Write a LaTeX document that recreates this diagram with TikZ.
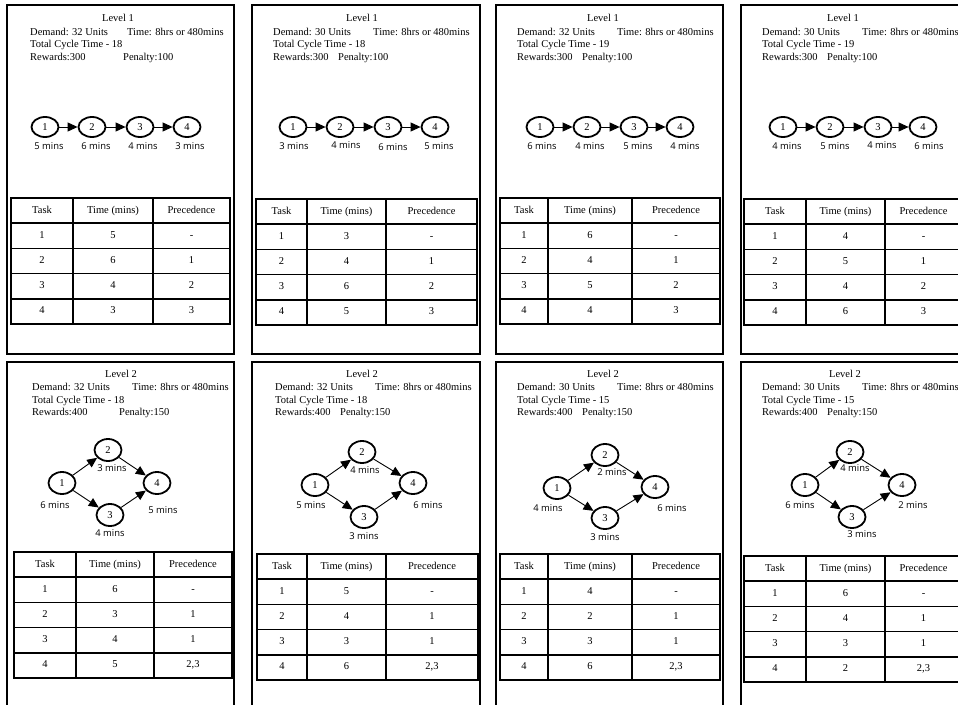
\documentclass[tikz,border=0pt]{standalone}
\usepackage{fontspec}
\setmainfont{Liberation Serif}
\newfontfamily\lblfont{Open Sans}
\usetikzlibrary{shapes.geometric,arrows.meta}

\tikzset{
  card/.style={draw, line width=1.9pt},
  hdr/.style={font=\fontsize{10.5}{12}\selectfont, inner sep=0pt, anchor=base west},
  lvl/.style={font=\fontsize{10.5}{12}\selectfont, inner sep=0pt, anchor=base},
  task/.style={draw, ellipse, line width=1.8pt, minimum width=27pt, minimum height=20pt,
    inner sep=0pt, font=\fontsize{10.5}{12}\selectfont},
  tasktwo/.style={task, minimum width=27pt, minimum height=22pt},
  mins/.style={font=\lblfont\fontsize{9.4}{10}\selectfont, inner sep=0pt},
  arr/.style={line width=0.9pt, -{Triangle[length=10pt,width=9pt]}},
  cell/.style={draw, line width=1.7pt, rectangle, inner sep=0pt, text height=7pt, text depth=2pt,
    font=\fontsize{10.5}{12}\selectfont},
}

% #1 prefix, #2..#5 column x positions, #6 top y, #7 list time/precedence
\newcommand{\tasktable}[7]{%
  \node[cell, minimum width={#3-#2}, minimum height=25.2] (#1-h1) at ({(#2+#3)/2},{#6+12.6}) {Task};
  \node[cell, minimum width={#4-#3}, minimum height=25.2] (#1-h2) at ({(#3+#4)/2},{#6+12.6}) {Time (mins)};
  \node[cell, minimum width={#5-#4}, minimum height=25.2] (#1-h3) at ({(#4+#5)/2},{#6+12.6}) {Precedence};
  \foreach \t/\p [count=\i] in {#7} {
    \node[cell, minimum width={#3-#2}, minimum height=25.2] (#1-\i-a) at ({(#2+#3)/2},{#6+12.6+25.2*\i}) {\i};
    \node[cell, minimum width={#4-#3}, minimum height=25.2] (#1-\i-b) at ({(#3+#4)/2},{#6+12.6+25.2*\i}) {\t};
    \node[cell, minimum width={#5-#4}, minimum height=25.2] (#1-\i-c) at ({(#4+#5)/2},{#6+12.6+25.2*\i}) {\p};
  }%
}

\begin{document}
\begin{tikzpicture}[x=1pt,y=-1pt]
\useasboundingbox (0,0) rectangle (958,704);
\clip (0,0) rectangle (958,704);

% ================= ROW 1 =================
% ---- card 1 ----
\draw[card] (7,5) rectangle (234,354);
\node[lvl] (c1lvl) at (118,21) {Level 1};
\node[hdr] (c1dem) at (30,35) {Demand: 32 Units};
\node[hdr] (c1time) at (127,35) {Time: 8hrs or 480mins};
\node[hdr] (c1tot) at (30,47.5) {Total Cycle Time - 18};
\node[hdr] (c1rew) at (30,60) {Rewards:300};
\node[hdr] (c1pen) at (123,60) {Penalty:100};
\node[task] (c1a) at (45,127) {1};
\node[task] (c1b) at (92,127) {2};
\node[task] (c1c) at (140,127) {3};
\node[task] (c1d) at (187,127) {4};
\draw[arr] (c1a) -- (c1b);
\draw[arr] (c1b) -- (c1c);
\draw[arr] (c1c) -- (c1d);
\node[mins] (c1la) at (49,146) {5 mins};
\node[mins] (c1lb) at (96,146) {6 mins};
\node[mins] (c1lc) at (143,146) {4 mins};
\node[mins] (c1ld) at (190,146) {3 mins};
\tasktable{c1t}{11}{73}{153}{230}{198}{5/-,6/1,4/2,3/3}

% ---- card 2 ----
\draw[card] (252,5) rectangle (480,354);
\node[lvl] (c2lvl) at (362,21) {Level 1};
\node[hdr] (c2dem) at (273,35) {Demand: 30 Units};
\node[hdr] (c2time) at (373,35) {Time: 8hrs or 480mins};
\node[hdr] (c2tot) at (273,47.5) {Total Cycle Time - 18};
\node[hdr] (c2rew) at (273,60) {Rewards:300};
\node[hdr] (c2pen) at (338,60) {Penalty:100};
\node[task] (c2a) at (293,127) {1};
\node[task] (c2b) at (340,127) {2};
\node[task] (c2c) at (388,127) {3};
\node[task] (c2d) at (435,127) {4};
\draw[arr] (c2a) -- (c2b);
\draw[arr] (c2b) -- (c2c);
\draw[arr] (c2c) -- (c2d);
\node[mins] (c2la) at (294,146) {3 mins};
\node[mins] (c2lb) at (346,145) {4 mins};
\node[mins] (c2lc) at (393,147) {6 mins};
\node[mins] (c2ld) at (439,146) {5 mins};
\tasktable{c2t}{256}{307}{386}{477}{199}{3/-,4/1,6/2,5/3}

% ---- card 3 ----
\draw[card] (496,5) rectangle (723,354);
\node[lvl] (c3lvl) at (603,21) {Level 1};
\node[hdr] (c3dem) at (517,35) {Demand: 32 Units};
\node[hdr] (c3time) at (617,35) {Time: 8hrs or 480mins};
\node[hdr] (c3tot) at (517,47.5) {Total Cycle Time - 19};
\node[hdr] (c3rew) at (517,60) {Rewards:300};
\node[hdr] (c3pen) at (582,60) {Penalty:100};
\node[task] (c3a) at (540,127) {1};
\node[task] (c3b) at (587,127) {2};
\node[task] (c3c) at (634,127) {3};
\node[task] (c3d) at (680,127) {4};
\draw[arr] (c3a) -- (c3b);
\draw[arr] (c3b) -- (c3c);
\draw[arr] (c3c) -- (c3d);
\node[mins] (c3la) at (542,146) {6 mins};
\node[mins] (c3lb) at (590,146) {4 mins};
\node[mins] (c3lc) at (638,146) {5 mins};
\node[mins] (c3ld) at (685,146) {4 mins};
\tasktable{c3t}{500}{548}{632}{720}{198}{6/-,4/1,5/2,4/3}

% ---- card 4 ----
\draw[card] (741,5) rectangle (968,354);
\node[lvl] (c4lvl) at (843,21) {Level 1};
\node[hdr] (c4dem) at (762,35) {Demand: 30 Units};
\node[hdr] (c4time) at (862,35) {Time: 8hrs or 480mins};
\node[hdr] (c4tot) at (762,47.5) {Total Cycle Time - 19};
\node[hdr] (c4rew) at (762,60) {Rewards:300};
\node[hdr] (c4pen) at (827,60) {Penalty:100};
\node[task] (c4a) at (783,127) {1};
\node[task] (c4b) at (830,127) {2};
\node[task] (c4c) at (878,127) {3};
\node[task] (c4d) at (923,127) {4};
\draw[arr] (c4a) -- (c4b);
\draw[arr] (c4b) -- (c4c);
\draw[arr] (c4c) -- (c4d);
\node[mins] (c4la) at (787,146) {4 mins};
\node[mins] (c4lb) at (835,146) {5 mins};
\node[mins] (c4lc) at (882,145) {4 mins};
\node[mins] (c4ld) at (929,146) {6 mins};
\tasktable{c4t}{744}{806}{885}{962}{199}{4/-,5/1,4/2,6/3}

% ================= ROW 2 =================
% ---- card 5 ----
\draw[card] (7,362) rectangle (234,715);
\node[lvl] (c5lvl) at (121,377) {Level 2};
\node[hdr] (c5dem) at (32,390) {Demand: 32 Units};
\node[hdr] (c5time) at (132,390) {Time: 8hrs or 480mins};
\node[hdr] (c5tot) at (32,403) {Total Cycle Time - 18};
\node[hdr] (c5rew) at (32,415) {Rewards:400};
\node[hdr] (c5pen) at (119,415) {Penalty:150};
\node[tasktwo] (c5a) at (62,483) {1};
\node[tasktwo] (c5b) at (108,450) {2};
\node[tasktwo] (c5c) at (110,515) {3};
\node[tasktwo] (c5d) at (157,483) {4};
\draw[arr] (c5a) -- (c5b);
\draw[arr] (c5a) -- (c5c);
\draw[arr] (c5b) -- (c5d);
\draw[arr] (c5c) -- (c5d);
\node[mins] (c5lb) at (112,468) {3 mins};
\node[mins] (c5la) at (55,505) {6 mins};
\node[mins] (c5ld) at (163,510) {5 mins};
\node[mins] (c5lc) at (110,533) {4 mins};
\tasktable{c5t}{14}{76}{154}{232}{552}{6/-,3/1,4/1,5/{2,3}}

% ---- card 6 ----
\draw[card] (252,362) rectangle (480,715);
\node[lvl] (c6lvl) at (362,377) {Level 2};
\node[hdr] (c6dem) at (275,390) {Demand: 32 Units};
\node[hdr] (c6time) at (375,390) {Time: 8hrs or 480mins};
\node[hdr] (c6tot) at (275,403) {Total Cycle Time - 18};
\node[hdr] (c6rew) at (275,415) {Rewards:400};
\node[hdr] (c6pen) at (340,415) {Penalty:150};
\node[tasktwo] (c6a) at (315,485) {1};
\node[tasktwo] (c6b) at (362,452) {2};
\node[tasktwo] (c6c) at (364,517) {3};
\node[tasktwo] (c6d) at (413,483) {4};
\draw[arr] (c6a) -- (c6b);
\draw[arr] (c6a) -- (c6c);
\draw[arr] (c6b) -- (c6d);
\draw[arr] (c6c) -- (c6d);
\node[mins] (c6lb) at (365,470) {4 mins};
\node[mins] (c6la) at (311,505) {5 mins};
\node[mins] (c6ld) at (428,505) {6 mins};
\node[mins] (c6lc) at (364,536) {3 mins};
\tasktable{c6t}{257}{307}{386}{478}{554}{5/-,4/1,3/1,6/{2,3}}

% ---- card 7 ----
\draw[card] (496,362) rectangle (723,715);
\node[lvl] (c7lvl) at (603,377) {Level 2};
\node[hdr] (c7dem) at (517,390) {Demand: 30 Units};
\node[hdr] (c7time) at (617,390) {Time: 8hrs or 480mins};
\node[hdr] (c7tot) at (517,403) {Total Cycle Time - 15};
\node[hdr] (c7rew) at (517,415) {Rewards:400};
\node[hdr] (c7pen) at (582,415) {Penalty:150};
\node[tasktwo] (c7a) at (557,488) {1};
\node[tasktwo] (c7b) at (605,455) {2};
\node[tasktwo] (c7c) at (605,518) {3};
\node[tasktwo] (c7d) at (655,487) {4};
\draw[arr] (c7a) -- (c7b);
\draw[arr] (c7a) -- (c7c);
\draw[arr] (c7b) -- (c7d);
\draw[arr] (c7c) -- (c7d);
\node[mins] (c7lb) at (612,472) {2 mins};
\node[mins] (c7la) at (548,508) {4 mins};
\node[mins] (c7ld) at (672,508) {6 mins};
\node[mins] (c7lc) at (605,537) {3 mins};
\tasktable{c7t}{500}{548}{632}{720}{554}{4/-,2/1,3/1,6/{2,3}}

% ---- card 8 ----
\draw[card] (741,362) rectangle (968,715);
\node[lvl] (c8lvl) at (845,377) {Level 2};
\node[hdr] (c8dem) at (762,390) {Demand: 30 Units};
\node[hdr] (c8time) at (862,390) {Time: 8hrs or 480mins};
\node[hdr] (c8tot) at (762,403) {Total Cycle Time - 15};
\node[hdr] (c8rew) at (762,415) {Rewards:400};
\node[hdr] (c8pen) at (827,415) {Penalty:150};
\node[tasktwo] (c8a) at (805,485) {1};
\node[tasktwo] (c8b) at (850,452) {2};
\node[tasktwo] (c8c) at (852,517) {3};
\node[tasktwo] (c8d) at (902,485) {4};
\draw[arr] (c8a) -- (c8b);
\draw[arr] (c8a) -- (c8c);
\draw[arr] (c8b) -- (c8d);
\draw[arr] (c8c) -- (c8d);
\node[mins] (c8lb) at (855,468) {4 mins};
\node[mins] (c8la) at (800,505) {6 mins};
\node[mins] (c8ld) at (913,505) {2 mins};
\node[mins] (c8lc) at (862,534) {3 mins};
\tasktable{c8t}{744}{806}{885}{962}{556}{6/-,4/1,3/1,2/{2,3}}
\end{tikzpicture}
\end{document}
